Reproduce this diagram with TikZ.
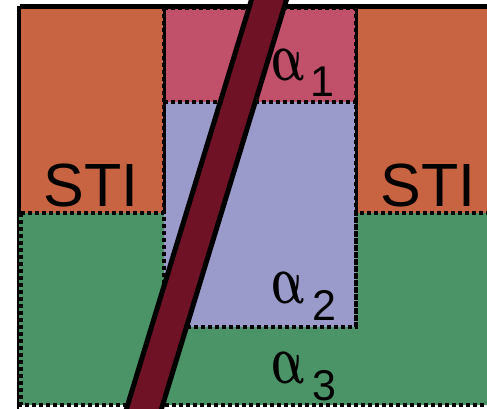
\documentclass[tikz,border=0pt]{standalone}
\usepackage{fontspec}
\setmainfont{Liberation Sans}
\definecolor{stiorange}{RGB}{200,100,65}
\definecolor{apink}{RGB}{193,80,107}
\definecolor{ablue}{RGB}{154,155,202}
\definecolor{agreen}{RGB}{74,148,104}
\definecolor{barred}{RGB}{112,18,38}
\newcommand{\myalpha}{\scalebox{4.3}[7]{\boldmath$\alpha$}}
\tikzset{
  dotb/.style={draw=black,line width=4pt,dash pattern=on 4pt off 3pt},
  solidb/.style={draw=black,line width=3pt},
  stilabel/.style={inner sep=0pt,anchor=base,font=\fontsize{61}{61}\selectfont},
  alab/.style={inner sep=0pt,anchor=base,xslant=-0.2,transform shape},
  sublab/.style={inner sep=0pt,anchor=base,font=\fontsize{43}{43}\selectfont},
}
\begin{document}
\begin{tikzpicture}[x=1pt,y=-1pt]
\useasboundingbox (0,0) rectangle (487,408);
\clip (0,0) rectangle (487,408);
% regions
\path[fill=agreen] (19,212.5) -- (164,212.5) -- (164,326.5) -- (356,326.5) -- (356,212.5) -- (495,212.5) -- (495,405) -- (19,405) -- cycle;
\path[fill=ablue] (164,101.5) rectangle (356,326.5);
\path[fill=apink] (164,7) rectangle (356,101.5);
\path[fill=stiorange] (19,7) rectangle (164,212.5);
\path[fill=stiorange] (356,7) rectangle (495,212.5);
% dotted borders
\draw[dotb] (21,212.5) -- (164,212.5) -- (164,326.5) -- (356,326.5) -- (356,212.5) -- (495,212.5);
\draw[dotb] (21,212.5) -- (21,405) -- (495,405);
\draw[dotb] (164,7) -- (164,326.5);
\draw[dotb] (164,101.5) -- (356,101.5);
\draw[dotb] (356,7) -- (356,326.5);
\draw[dotb] (164,8) -- (356,8);
% solid borders
\draw[solidb] (19,212.5) -- (19,7) -- (164,7) -- (164,212.5);
\draw[solidb] (356,212.5) -- (356,7) -- (495,7);
\draw[draw=black,line width=5pt] (19.5,6.5) -- (495,6.5);
\draw[draw=black,line width=2pt] (18,6) -- (18,410);
% gate bar
\draw[draw=black,line width=5pt,fill=barred,line join=miter]
  (257.5,-20) -- (292.5,-20) -- (155,430) -- (120,430) -- cycle;
% labels
\node[stilabel] (sti1) at (91,206) {STI};
\node[stilabel] (sti2) at (428,206) {STI};
\node[alab] (a1) at (291,80) {\myalpha};
\node[sublab] (s1) at (322,96) {1};
\node[alab] (a2) at (291,303) {\myalpha};
\node[sublab] (s2) at (324,320) {2};
\node[alab] (a3) at (291,383) {\myalpha};
\node[sublab] (s3) at (324,400) {3};
\end{tikzpicture}
\end{document}
